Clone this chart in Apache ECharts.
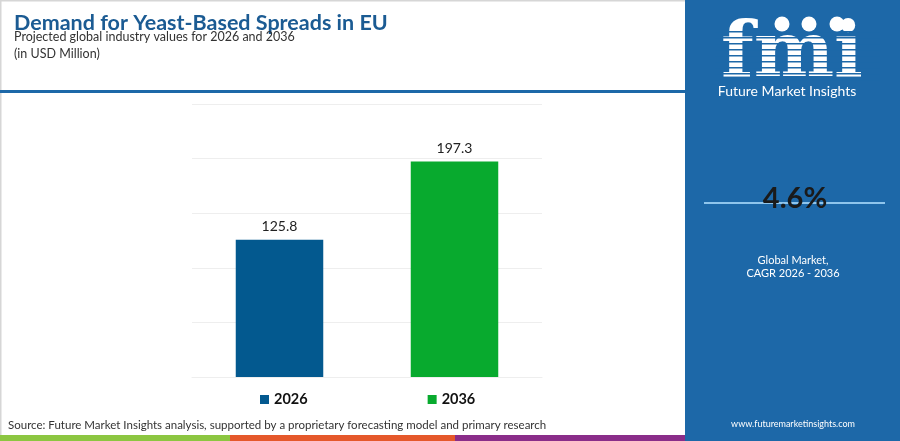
<!DOCTYPE html>
<html>
<head>
<meta charset="utf-8">
<script src="https://cdn.jsdelivr.net/npm/echarts@6/dist/echarts.min.js"></script>
<style>
html,body{margin:0;padding:0;background:#fff;}
#c{width:900px;height:441px;}
</style>
</head>
<body>
<div id="c"></div>
<script>
const categories = ['2026', '2036'];
const seriesNames = ['2026', '2036'];
const values = [125.8, 197.3];
const cagrText = '4.6%';
const colors = ['#03598f', '#08aa2e'];

const FONT = "Lato, 'Open Sans', sans-serif";
const chart = echarts.init(document.getElementById('c'));

const series = seriesNames.map((name, i) => ({
  name: name,
  type: 'bar',
  stack: 'total',
  barWidth: '50%',
  itemStyle: { color: colors[i] },
  label: {
    show: true, position: 'top', distance: 6,
    fontFamily: FONT, fontSize: 14, color: '#222',
    formatter: p => p.value
  },
  data: categories.map((c, j) => (j === i ? values[i] : '-'))
}));

const stripes = [];
for (let k = 0; k < 9; k++) {
  stripes.push({
    type: 'rect', z: 12,
    shape: { x: 715, y: 31 + k * 6, width: 165, height: 1.5 },
    style: { fill: '#1d68a8' }
  });
}

chart.setOption({
  animation: false,
  title: [
    { text: 'Demand for Yeast-Based Spreads in EU', left: 9, top: 7,
      textStyle: { fontFamily: FONT, fontSize: 21.5, fontWeight: 'bold', color: '#1b5b93' } },
    { text: 'Projected global industry values for 2026 and 2036', left: 9, top: 25,
      textStyle: { fontFamily: FONT, fontSize: 12.5, fontWeight: 'normal', color: '#333' } },
    { text: '(in USD Million)', left: 9, top: 42,
      textStyle: { fontFamily: FONT, fontSize: 12.5, fontWeight: 'normal', color: '#333' } }
  ],
  legend: {
    data: seriesNames,
    left: 255, top: 387,
    icon: 'rect', itemWidth: 9, itemHeight: 9, itemGap: 120,
    textStyle: { fontFamily: FONT, fontSize: 14.5, fontWeight: 'bold', color: '#111' }
  },
  grid: { left: 192, right: 358, top: 104, bottom: 64 },
  xAxis: {
    type: 'category', data: categories,
    axisLine: { show: true, lineStyle: { color: '#eeeeee' } },
    axisTick: { show: false }, axisLabel: { show: false }
  },
  yAxis: {
    type: 'value', min: 0, max: 250, interval: 50,
    axisLine: { show: false }, axisTick: { show: false }, axisLabel: { show: false },
    splitLine: { lineStyle: { color: '#eeeeee' } }
  },
  series: series,
  graphic: [
    { type: 'rect', z: -1, shape: { x: 0.5, y: 0.5, width: 899, height: 440 },
      style: { fill: 'none', stroke: '#d6d6d6', lineWidth: 2 } },
    { type: 'rect', z: 1, shape: { x: 0, y: 90, width: 686, height: 3 }, style: { fill: '#1d68a8' } },
    { type: 'rect', z: 5, shape: { x: 685, y: 0, width: 215, height: 441 }, style: { fill: '#1d68a8' } },
    // bottom coloured strip
    { type: 'rect', z: 5, shape: { x: 0, y: 435, width: 230, height: 6 }, style: { fill: '#8cc641' } },
    { type: 'rect', z: 5, shape: { x: 230, y: 435, width: 225, height: 6 }, style: { fill: '#e5582b' } },
    { type: 'rect', z: 5, shape: { x: 455, y: 435, width: 230, height: 6 }, style: { fill: '#8a2d89' } },
    // logo
    { type: 'text', z: 10, style: { text: 'fmi', x: 792, y: 56, align: 'center', verticalAlign: 'middle',
        font: "bold 76px 'DejaVu Serif', serif", fill: '#ffffff' } },
    ...stripes,
    { type: 'circle', z: 13, shape: { cx: 782, cy: 24, r: 7.5 }, style: { fill: '#ffffff' } },
    { type: 'circle', z: 13, shape: { cx: 809, cy: 24, r: 7.5 }, style: { fill: '#ffffff' } },
    { type: 'circle', z: 13, shape: { cx: 837, cy: 24, r: 7.5 }, style: { fill: '#ffffff' } },
    { type: 'text', z: 13, style: { text: 'Future Market Insights', x: 787, y: 91, align: 'center', verticalAlign: 'middle',
        font: "14px Lato, sans-serif", fill: '#ffffff' } },
    // CAGR
    { type: 'line', z: 10, shape: { x1: 704, y1: 203, x2: 885, y2: 203 }, style: { stroke: '#8fc5ec', lineWidth: 2 } },
    { type: 'text', z: 11, style: { text: cagrText, x: 795, y: 199, align: 'center', verticalAlign: 'middle',
        font: "bold 29px Lato, sans-serif", fill: '#1a1a1a' } },
    { type: 'text', z: 11, style: { text: 'Global Market,', x: 793, y: 260, align: 'center', verticalAlign: 'middle',
        font: "11px Lato, sans-serif", fill: '#ffffff' } },
    { type: 'text', z: 11, style: { text: 'CAGR 2026 - 2036', x: 793, y: 273, align: 'center', verticalAlign: 'middle',
        font: "11px Lato, sans-serif", fill: '#ffffff' } },
    { type: 'text', z: 11, style: { text: 'www.futuremarketinsights.com', x: 793, y: 424, align: 'center', verticalAlign: 'middle',
        font: "9px Lato, sans-serif", fill: '#ffffff' } },
    // source
    { type: 'text', z: 11, style: { text: 'Source: Future Market Insights analysis, supported by a proprietary forecasting model and primary research',
        x: 8, y: 425, verticalAlign: 'middle', font: "11.5px Lato, sans-serif", fill: '#333' } }
  ]
});
</script>
</body>
</html>
